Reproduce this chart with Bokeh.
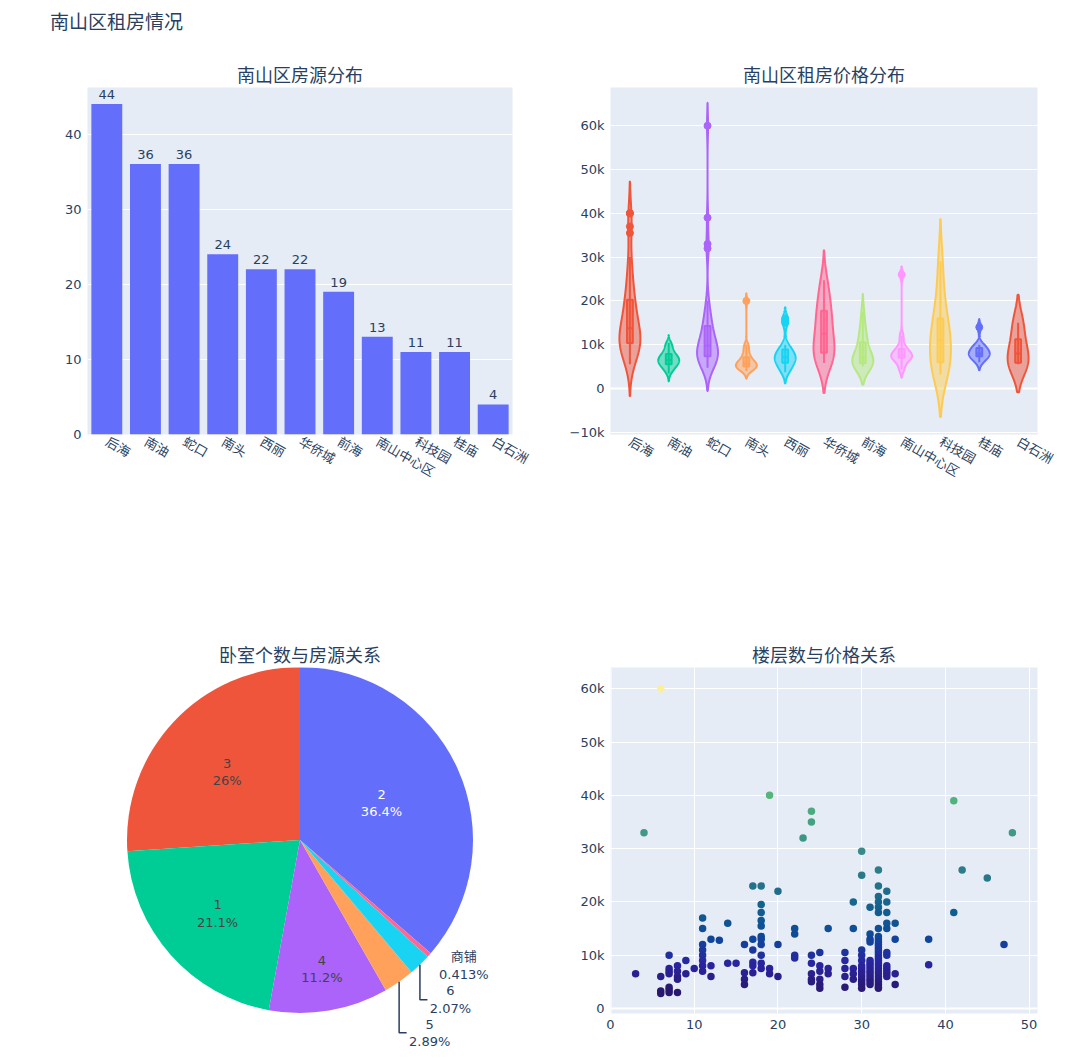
import math
import numpy as np
from bokeh.plotting import figure
from bokeh.layouts import column, row
from bokeh.models import (Div, Spacer, Range1d, FactorRange, FixedTicker, Span,
                          ColumnDataSource, LinearColorMapper, CustomJSTickFormatter)
from bokeh.embed import file_html
from bokeh.resources import INLINE
from bokeh.core.properties import value

# ---------------- data ----------------
main_title = "南山区租房情况"
bar_title = "南山区房源分布"
violin_title = "南山区租房价格分布"
pie_title = "卧室个数与房源关系"
scatter_title = "楼层数与价格关系"

districts = ["后海", "南油", "蛇口", "南头", "西丽", "华侨城", "前海", "南山中心区", "科技园", "桂庙", "白石洲"]
house_counts = [44, 36, 36, 24, 22, 22, 19, 13, 11, 11, 4]

price_houhai = [5500, 6000, 7000, 7500, 8000, 8500, 9000, 9000, 9500, 10000, 10000, 10500, 10500, 11000,
                11000, 11500, 11500, 12000, 12000, 12500, 13000, 13500, 14000, 14500, 15000, 15500, 16000,
                17000, 18000, 18500, 19000, 19500, 20000, 21000, 22000, 24000, 25000, 26000, 28000, 30000,
                35500, 37000, 40000, 40000]
price_nanyou = [3400, 4000, 4200, 4500, 4800, 5000, 5000, 5200, 5500, 5500, 5800, 6000, 6000, 6000, 6200,
                6300, 6500, 6500, 6500, 6800, 7000, 7000, 7000, 7200, 7500, 7500, 7800, 8000, 8000, 8500,
                8800, 9000, 9500, 10000, 10200, 10400]
price_shekou = [4700, 5000, 5500, 6000, 6000, 6500, 6500, 7000, 7000, 7500, 7500, 8000, 8000, 8500, 8500,
                9000, 9000, 9500, 10000, 10000, 10500, 11000, 12000, 12500, 13000, 13500, 14000, 15000,
                16000, 17000, 18000, 20000, 32000, 33000, 39000, 60000]
price_nantou = [4000, 4200, 4500, 4500, 4800, 5000, 5000, 5000, 5200, 5500, 5500, 5500, 5800, 6000, 6000,
                6500, 7000, 7000, 7500, 8000, 9000, 9500, 10000, 20000]
price_xili = [3700, 4000, 4500, 5000, 5500, 5800, 6000, 6500, 6800, 7000, 7000, 7200, 7500, 8000, 8000,
              8500, 9000, 9500, 10000, 15000, 15500, 16000]
price_huaqiaocheng = [5800, 6000, 6500, 7000, 7500, 8000, 8500, 9000, 10000, 11000, 12000, 13000, 14000,
                      15000, 16000, 17000, 18000, 19000, 20000, 22000, 24000, 24700]
price_qianhai = [5000, 5000, 5000, 5500, 5500, 6000, 6000, 6500, 6500, 7000, 7500, 8000, 9000, 10000,
                 11000, 12000, 13000, 15000, 17500]
price_center = [4300, 5500, 6500, 7000, 7000, 7500, 7500, 8000, 8500, 9000, 10000, 12000, 26000]
price_keji = [3200, 4500, 5000, 7000, 10000, 11000, 12000, 15000, 17000, 22000, 29000]
price_guimiao = [6000, 6800, 7200, 7500, 8000, 8000, 8500, 9000, 9500, 10000, 14000]
price_baishizhou = [5500, 6000, 10000, 15000]
district_prices = [price_houhai, price_nanyou, price_shekou, price_nantou, price_xili, price_huaqiaocheng,
                   price_qianhai, price_center, price_keji, price_guimiao, price_baishizhou]

bedroom_labels = ["2", "3", "1", "4", "5", "6", "商铺"]
bedroom_counts = [88, 63, 51, 27, 7, 5, 1]

floors = ([3] + [4] + [6] * 4 + [7] * 7 + [8] * 5 + [9] * 2 + [10] + [11] * 8 + [12] * 3 + [13] + [14] * 2
          + [15] + [16] * 4 + [17] * 6 + [18] * 11 + [19] * 3 + [20] * 3 + [22] * 4 + [23] + [24] * 7
          + [25] * 6 + [26] * 3 + [28] * 5 + [29] * 5 + [30] * 14 + [31] * 14 + [32] * 28 + [33] * 12
          + [34] * 4 + [38] * 2 + [41] * 2 + [42] + [45] + [47] + [48])
floor_prices = [6500,
                33000,
                60000, 6000, 3300, 2800,
                10000, 7500, 7000, 6500, 4000, 3500, 3000,
                8000, 7000, 6000, 5500, 3000,
                9000, 6500,
                7500,
                17000, 15000, 12000, 11000, 10000, 9000, 8000, 7000,
                13000, 8000, 6000,
                12800,
                16000, 8500,
                8500,
                12000, 6700, 5500, 4500,
                23000, 13000, 11000, 8700, 8000, 6700,
                23000, 19500, 18000, 16500, 15500, 13500, 13000, 12000, 10000, 8500, 7500,
                40000, 7500, 6500,
                22000, 12000, 6000,
                15000, 14000, 10000, 9500,
                32000,
                37000, 35000, 10000, 8500, 6500, 5500, 5000,
                10500, 8000, 7000, 5500, 4500, 3800,
                15000, 7500, 6500,
                10500, 9000, 7500, 6000, 4000,
                20000, 15000, 7500, 6500, 5500,
                29500, 25000, 11000, 10000, 9000, 8000, 7500, 7000, 6500, 6000, 5500, 5000, 4500, 3800,
                19000, 14000, 13000, 12500, 9000, 8500, 8000, 7500, 7000, 6500, 6000, 5500, 5000, 4500,
                26000, 23000, 21000, 20000, 19000, 18000, 15000, 13500, 13000, 12500, 12000, 11500, 11000,
                10500, 10000, 9500, 9000, 8500, 8000, 7500, 7000, 6500, 6000, 5500, 5000, 4500, 4000, 3800,
                22000, 20000, 18000, 16000, 15000, 10500, 10000, 8000, 7500, 7000, 6500, 6000,
                16000, 13000, 6500, 4500,
                13000, 8200,
                39000, 18000,
                26000,
                24500,
                12000,
                33000]

# ---------------- styles ----------------
FONT = "DejaVu Sans, Noto Sans CJK SC, sans-serif"
TXT = "#2a3f5f"
BG = "#E5ECF6"
BAR_COLOR = "#636EFA"
violin_colors = ["#EF553B", "#00CC96", "#AB63FA", "#FFA15A", "#19D3F3", "#FF6692",
                 "#B6E880", "#FF97FF", "#FECB52", "#636EFA", "#EF553B"]
pie_colors = ["#636EFA", "#EF553B", "#00CC96", "#AB63FA", "#FFA15A", "#19D3F3", "#FF6692"]
haline_stops = [(41, 24, 107), (42, 35, 160), (15, 71, 153), (18, 95, 142), (38, 116, 137), (53, 136, 136),
                (65, 157, 133), (81, 178, 124), (111, 198, 107), (160, 214, 91), (212, 225, 112),
                (253, 238, 153)]


def style_axes(p):
    p.background_fill_color = BG
    p.border_fill_color = "white"
    p.outline_line_color = None
    for ax in p.axis:
        ax.axis_line_color = None
        ax.major_tick_line_color = None
        ax.minor_tick_line_color = None
        ax.major_tick_out = 0
        ax.major_tick_in = 0
        ax.major_label_text_font = FONT
        ax.major_label_text_font_size = "13px"
        ax.major_label_text_color = TXT
        ax.major_label_standoff = 6
    p.grid.grid_line_color = "white"
    p.grid.grid_line_width = 1


def style_title(p, offset=0):
    p.title.align = "center"
    p.title.text_font = FONT
    p.title.text_font_size = "18px"
    p.title.text_font_style = "normal"
    p.title.text_color = TXT
    p.title.standoff = 4
    p.title.offset = offset


kfmt = CustomJSTickFormatter(code="""
if (tick == 0) { return '0'; }
const s = Math.abs(tick) / 1000 + 'k';
return tick < 0 ? '\\u2212' + s : s;
""")

# ---------------- main title ----------------
title_div = Div(text=main_title, width=548, height=48, margin=0,
                styles={"font-family": FONT, "font-size": "19px", "color": TXT,
                        "padding-left": "50px", "padding-top": "10px", "line-height": "24px",
                        "box-sizing": "border-box"})
top_spacer = Spacer(width=524, height=48, margin=0)

# ---------------- bar chart ----------------
p1 = figure(width=548, height=500, title=bar_title, x_range=FactorRange(*districts),
            y_range=Range1d(0, 46.2), output_backend="svg", toolbar_location=None,
            min_border_left=87, min_border_right=36, min_border_top=39, min_border_bottom=114)
bar_src = ColumnDataSource(dict(x=districts, top=house_counts, label=[str(c) for c in house_counts]))
p1.vbar(x="x", top="top", width=0.8, source=bar_src, fill_color=BAR_COLOR, line_color=None)
p1.text(x="x", y="top", text="label", source=bar_src, text_align="center", text_baseline="bottom",
        y_offset=-5, text_font=value(FONT), text_font_size="13px", text_color=TXT)
style_axes(p1)
style_title(p1)
p1.xgrid.visible = False
p1.yaxis.ticker = FixedTicker(ticks=[0, 10, 20, 30, 40])
p1.xaxis.major_label_orientation = -math.pi / 6

# ---------------- violin chart ----------------
p2 = figure(width=524, height=500, title=violin_title, x_range=Range1d(-0.5, 10.5),
            y_range=Range1d(-10520, 68740), output_backend="svg", toolbar_location=None,
            min_border_left=60, min_border_right=35, min_border_top=39, min_border_bottom=114)
style_axes(p2)
style_title(p2)
p2.xgrid.visible = False
p2.add_layout(Span(location=0, dimension="width", line_color="white", line_width=2, level="underlay"))
HALF_W = 0.27
BOX_HW = 0.075
for i, (vals, col) in enumerate(zip(district_prices, violin_colors)):
    v = np.array(vals, dtype=float)
    n = len(v)
    q1, med, q3 = np.percentile(v, [25, 50, 75])
    iqr = q3 - q1
    sd = v.std(ddof=1)
    s = min(sd, iqr / 1.349) if iqr > 0 else sd
    bw = 1.059 * s * n ** -0.2
    ys = np.linspace(v.min() - 2 * bw, v.max() + 2 * bw, 240)
    dens = np.exp(-0.5 * ((ys[:, None] - v[None, :]) / bw) ** 2).sum(axis=1)
    half = HALF_W * dens / dens.max()
    xs = np.concatenate([i - half, (i + half)[::-1]])
    yy = np.concatenate([ys, ys[::-1]])
    p2.patch(xs, yy, fill_color=col, fill_alpha=0.5, line_color=col, line_width=2)
    lo = v[v >= q1 - 1.5 * iqr].min()
    hi = v[v <= q3 + 1.5 * iqr].max()
    p2.segment(x0=[i], y0=[lo], x1=[i], y1=[hi], line_color=col, line_width=2)
    p2.quad(left=[i - BOX_HW], right=[i + BOX_HW], bottom=[q1], top=[q3],
            fill_color=col, fill_alpha=0.5, line_color=col, line_width=2)
    p2.segment(x0=[i - BOX_HW], y0=[med], x1=[i + BOX_HW], y1=[med], line_color=col, line_width=2)
    out = v[(v < lo) | (v > hi)]
    if len(out):
        p2.scatter(x=[i] * len(out), y=out, size=7, fill_color=col, line_color=col)
p2.xaxis.ticker = FixedTicker(ticks=list(range(len(districts))))
p2.xaxis.major_label_overrides = {i: d for i, d in enumerate(districts)}
p2.xaxis.major_label_orientation = -math.pi / 6
p2.yaxis.ticker = FixedTicker(ticks=[-10000, 0, 10000, 20000, 30000, 40000, 50000, 60000])
p2.yaxis.formatter = kfmt

# ---------------- pie chart ----------------
PW, PH = 425, 383
p3 = figure(width=548, height=502, title=pie_title, x_range=Range1d(0, PW), y_range=Range1d(0, PH),
            output_backend="svg", toolbar_location=None, x_axis_location=None, y_axis_location=None,
            min_border_left=87, min_border_right=36, min_border_top=119, min_border_bottom=0)
p3.outline_line_color = None
p3.background_fill_color = "white"
p3.border_fill_color = "white"
p3.grid.visible = False
style_title(p3)
CX, CY, R = 212.5, 210.5, 173
total = sum(bedroom_counts)
fracs = [c / total for c in bedroom_counts]
a0 = math.pi / 2 - 2 * math.pi * fracs[0]
starts, ends = [], []
acc = a0
for f in fracs:
    starts.append(acc)
    acc += 2 * math.pi * f
    ends.append(acc)
p3.wedge(x=CX, y=CY, radius=R, start_angle=starts, end_angle=ends, fill_color=pie_colors, line_color=None)
pct_text = [f"{100 * f:.3g}%" for f in fracs]
mids = [(s + e) / 2 for s, e in zip(starts, ends)]
inside_r = [0.518, 0.577, 0.638, 0.757]
inside_col = ["white", "#444444", "#444444", "#444444"]
LINE_H = 8.7
for k in range(4):
    lx = CX + inside_r[k] * R * math.cos(mids[k])
    ly = CY + inside_r[k] * R * math.sin(mids[k])
    p3.text(x=[lx, lx], y=[ly + LINE_H, ly - LINE_H], text=[bedroom_labels[k], pct_text[k]],
            text_align="center", text_baseline="middle", text_font=value(FONT),
            text_font_size="13px", text_color=inside_col[k])
outside_drop = {"5": 51, "6": 35, "商铺": 10.5}
outside_leader = {"5": True, "6": True, "商铺": False}
block_w = {"5": 42, "6": 42, "商铺": 50}
for k in range(4, len(bedroom_labels)):
    lab = bedroom_labels[k]
    ax_ = CX + R * math.cos(mids[k])
    ay_ = CY + R * math.sin(mids[k])
    ty = ay_ - outside_drop[lab]
    tx = ax_ + 9.5 + block_w[lab] / 2
    if outside_leader[lab]:
        p3.line(x=[ax_, ax_, ax_ + 7.5], y=[ay_, ty, ty], line_color=TXT, line_width=1.5)
    p3.text(x=[tx, tx], y=[ty + LINE_H, ty - LINE_H], text=[lab, pct_text[k]],
            text_align="center", text_baseline="middle", text_font=value(FONT),
            text_font_size="13px", text_color=TXT)

# ---------------- scatter chart ----------------
p4 = figure(width=524, height=502, title=scatter_title, x_range=Range1d(0, 51.0),
            y_range=Range1d(-940, 64000), output_backend="svg", toolbar_location=None,
            min_border_left=62, min_border_right=35, min_border_top=119, min_border_bottom=37)
style_axes(p4)
style_title(p4)
p4.add_layout(Span(location=0, dimension="width", line_color="white", line_width=2, level="underlay"))
p4.add_layout(Span(location=0, dimension="height", line_color="white", line_width=2, level="underlay"))


def lerp_palette(stops, n=256):
    out = []
    m = len(stops) - 1
    for j in range(n):
        t = j / (n - 1) * m
        a = min(int(t), m - 1)
        f = t - a
        c = [round(stops[a][q] + (stops[a + 1][q] - stops[a][q]) * f) for q in range(3)]
        out.append("#%02x%02x%02x" % tuple(c))
    return out


mapper = LinearColorMapper(palette=lerp_palette(haline_stops), low=min(floor_prices), high=max(floor_prices))
sc_src = ColumnDataSource(dict(x=floors, y=floor_prices))
p4.scatter(x="x", y="y", source=sc_src, size=7.5, line_color=None,
           fill_color={"field": "y", "transform": mapper})
p4.xaxis.ticker = FixedTicker(ticks=[0, 10, 20, 30, 40, 50])
p4.yaxis.ticker = FixedTicker(ticks=[0, 10000, 20000, 30000, 40000, 50000, 60000])
p4.yaxis.formatter = kfmt

layout = row(column(title_div, p1, p3), column(top_spacer, p2, p4))
open("out.html", "w").write(file_html(layout, INLINE))
